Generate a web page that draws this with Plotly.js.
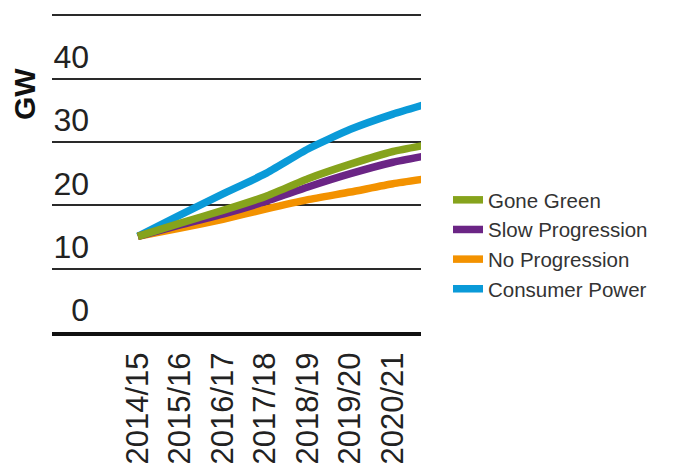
<!DOCTYPE html>
<html>
<head>
<meta charset="utf-8">
<script src="https://cdn.plot.ly/plotly-3.0.1.min.js"></script>
<style>html,body{margin:0;padding:0;background:#fff;}#chart{width:685px;height:469px;}</style>
</head>
<body>
<div id="chart"></div>
<script>
var years = ['2014/15','2015/16','2016/17','2017/18','2018/19','2019/20','2020/21','2021/22'];
var goneGreen       = [15.1, 17.2, 19.2, 21.4, 24.2, 26.5, 28.5, 29.8];
var slowProgression = [15.1, 16.9, 18.6, 20.6, 22.9, 25.0, 26.8, 28.1];
var noProgression   = [15.1, 16.4, 17.8, 19.4, 20.9, 22.1, 23.4, 24.4];
var consumerPower   = [15.1, 18.5, 21.8, 25.0, 28.9, 32.0, 34.4, 36.4];
var yTickVals = [0, 10, 20, 30, 40, 50];
var yTickText = ['0', '10', '20', '30', '40', ''];

function tr(name, ys, color) {
  return {x: years, y: ys, name: name, type: 'scatter', mode: 'lines',
          line: {color: color, width: 7.5, shape: 'spline', smoothing: 0.5}};
}
var data = [
  tr('Consumer Power', consumerPower, '#0a9ad8'),
  tr('No Progression', noProgression, '#f39200'),
  tr('Slow Progression', slowProgression, '#6b2585'),
  tr('Gone Green', goneGreen, '#86a31c')
];
var layout = {
  width: 685, height: 469,
  margin: {l: 52, r: 264, t: 9, b: 137},
  paper_bgcolor: '#fff', plot_bgcolor: '#fff',
  font: {family: 'Liberation Sans, Arial, sans-serif', color: '#222'},
  showlegend: true,
  legend: {traceorder: 'reversed', xref: 'container', yref: 'container', x: 448/685, y: 1 - 180/469,
           xanchor: 'left', yanchor: 'top', font: {size: 20.5, color: '#333'}, bgcolor: 'rgba(0,0,0,0)'},
  xaxis: {type: 'category', range: [-2.02, 6.66], showgrid: false, zeroline: false,
          showline: true, linecolor: '#111', linewidth: 4, ticks: '',
          tickangle: -90, tickfont: {size: 31, color: '#222'}, ticklabelstandoff: 4},
  yaxis: {range: [0, 51], tickmode: 'array', tickvals: yTickVals, ticktext: yTickText,
          showgrid: true, gridcolor: '#2a2a2a', gridwidth: 2, zeroline: false, showline: false,
          ticks: '', tickfont: {size: 32, color: '#222'}, ticklabelshift: -22, ticklabelstandoff: -38},
  annotations: [{text: '<b>GW</b>', xref: 'paper', yref: 'paper', x: (24-52)/369, y: (332-94)/323,
                 xanchor: 'center', yanchor: 'middle', textangle: -90, showarrow: false,
                 font: {size: 30, color: '#111'}}]
};
Plotly.newPlot('chart', data, layout, {displayModeBar: false, staticPlot: true});
</script>
</body>
</html>
